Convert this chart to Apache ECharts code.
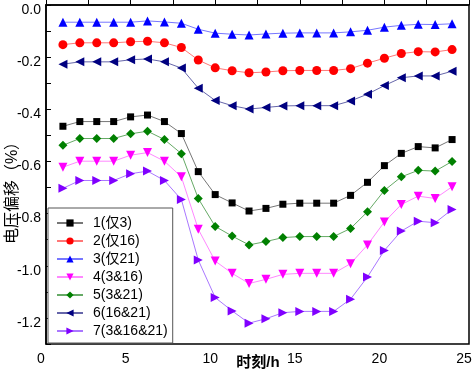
<!DOCTYPE html>
<html>
<head>
<meta charset="utf-8">
<script src="https://cdn.jsdelivr.net/npm/echarts@6/dist/echarts.min.js"></script>
<style>
  html, body { margin: 0; padding: 0; background: #fff; }
  #main { width: 472px; height: 373px; }
</style>
</head>
<body>
<div id="main"></div>
<script>
// 时刻 1~24 h
const hours = [1, 2, 3, 4, 5, 6, 7, 8, 9, 10, 11, 12, 13, 14, 15, 16, 17, 18, 19, 20, 21, 22, 23, 24];

// 图例名称
const names = ['1(仅3)', '2(仅16)', '3(仅21)', '4(3&16)', '5(3&21)', '6(16&21)', '7(3&16&21)'];

// 各方案电压偏移 (%)
const s1 = [-0.465, -0.447, -0.447, -0.447, -0.429, -0.422, -0.447, -0.493, -0.639, -0.727, -0.759, -0.790,
            -0.780, -0.764, -0.760, -0.760, -0.760, -0.730, -0.680, -0.616, -0.569, -0.543, -0.548, -0.516];
const s2 = [-0.152, -0.145, -0.145, -0.145, -0.141, -0.139, -0.145, -0.163, -0.211, -0.241, -0.252, -0.260,
            -0.257, -0.252, -0.251, -0.251, -0.251, -0.244, -0.223, -0.204, -0.186, -0.179, -0.180, -0.171];
const s3 = [-0.066, -0.066, -0.066, -0.066, -0.066, -0.061, -0.065, -0.070, -0.093, -0.108, -0.112, -0.115,
            -0.111, -0.108, -0.107, -0.107, -0.107, -0.103, -0.097, -0.085, -0.078, -0.074, -0.075, -0.072];
const s4 = [-0.622, -0.599, -0.599, -0.599, -0.576, -0.566, -0.599, -0.659, -0.860, -0.982, -1.029, -1.068,
            -1.052, -1.033, -1.029, -1.029, -1.029, -0.992, -0.920, -0.832, -0.765, -0.733, -0.742, -0.697];
const s5 = [-0.538, -0.512, -0.512, -0.512, -0.494, -0.484, -0.516, -0.570, -0.742, -0.849, -0.886, -0.920,
            -0.907, -0.892, -0.888, -0.888, -0.888, -0.857, -0.793, -0.711, -0.659, -0.634, -0.637, -0.600];
const s6 = [-0.227, -0.218, -0.218, -0.218, -0.210, -0.207, -0.218, -0.242, -0.319, -0.366, -0.386, -0.399,
            -0.393, -0.387, -0.386, -0.386, -0.386, -0.368, -0.342, -0.309, -0.279, -0.272, -0.272, -0.254];
const s7 = [-0.703, -0.673, -0.673, -0.673, -0.647, -0.637, -0.673, -0.746, -0.978, -1.122, -1.173, -1.220,
            -1.203, -1.180, -1.175, -1.175, -1.175, -1.128, -1.043, -0.941, -0.867, -0.829, -0.835, -0.784];

const allData = [s1, s2, s3, s4, s5, s6, s7];
// 标记样式
const markColors = ['#000000', '#ff0000', '#0000ff', '#ff00ff', '#008000', '#000080', '#8000ff'];
const lineColors = ['#777777', '#ff7777', '#7777ff', '#ff88ff', '#66aa66', '#6666aa', '#aa77ff'];
const symbols = ['rect', 'circle', 'triangle', 'triangle', 'diamond', 'triangle', 'triangle'];
const symbolSizes = [7, 9, 9, 9, 9, 9, 9];
const rotates = [0, 0, 0, 180, 0, 90, -90];

const font = 'Arial, "Liberation Sans", "Noto Sans CJK SC", sans-serif';

const chart = echarts.init(document.getElementById('main'), null, { renderer: 'canvas' });

let series = [];
for (let i = 0; i < allData.length; i++) {
  series.push({
    name: names[i],
    type: 'line',
    data: hours.map((h, k) => [h, allData[i][k]]),
    symbol: symbols[i],
    symbolSize: symbolSizes[i],
    symbolRotate: rotates[i],
    showAllSymbol: true,
    itemStyle: { color: markColors[i] },
    lineStyle: { color: lineColors[i], width: 1 },
    emphasis: { disabled: true },
    animation: false
  });
}

const option = {
  backgroundColor: '#fff',
  animation: false,
  grid: {
    left: 46, right: 3, top: 5, bottom: 29,
    outerBoundsMode: 'none',
    containLabel: false,
    show: true, borderColor: '#000', borderWidth: 1.5
  },
  // 坐标轴标题单独放，位置好控制
  graphic: [{
    type: 'text',
    x: 13,
    y: 189,
    rotation: Math.PI / 2,
    style: {
      text: '电压偏移（%）',
      fontFamily: font, fontSize: 16, fill: '#000',
      textAlign: 'center', textVerticalAlign: 'middle'
    }
  }, {
    type: 'text',
    x: 258,
    y: 363,
    style: {
      text: '时刻/h',
      fontFamily: font, fontSize: 15, fontWeight: 'bold', fill: '#000',
      textAlign: 'center', textVerticalAlign: 'middle'
    }
  }],
  legend: {
    orient: 'vertical',
    left: 48, bottom: 30,
    data: names,
    itemWidth: 26, itemHeight: 9, itemGap: 4,
    padding: [8, 5, 5, 8],
    backgroundColor: '#fff',
    borderColor: '#555', borderWidth: 1, borderRadius: 0,
    textStyle: { fontFamily: font, fontSize: 14, color: '#000', lineHeight: 14, padding: [0, 0, 0, 5] }
  },
  xAxis: {
    type: 'value',
    min: 0, max: 25, interval: 5,
    splitLine: { show: false },
    axisLine: { lineStyle: { color: '#000', width: 1.5 } },
    axisTick: { inside: true, length: 5, lineStyle: { color: '#000' } },
    minorTick: { show: true, splitNumber: 2, length: 5, lineStyle: { color: '#000' } },
    minorSplitLine: { show: false },
    axisLabel: {
      fontFamily: font, fontSize: 14, color: '#000', margin: 8,
      padding: [0, 10, 0, 0],
      showMinLabel: true, showMaxLabel: true
    }
  },
  yAxis: {
    type: 'value',
    min: -1.3, max: 0, interval: 0.1,
    splitLine: { show: false },
    axisLine: { lineStyle: { color: '#000', width: 1.5 } },
    axisTick: { inside: true, length: 5, lineStyle: { color: '#000' } },
    axisLabel: {
      fontFamily: font, fontSize: 14, color: '#000', margin: 5,
      overflow: 'none',
      verticalAlign: 'top',
      lineHeight: 10,
      formatter: v => {
        const t = Math.round(v * 10);
        return t % 2 === 0 ? (t / 10).toFixed(1) : '';
      }
    }
  },
  series: series
};

chart.setOption(option);
</script>
</body>
</html>
